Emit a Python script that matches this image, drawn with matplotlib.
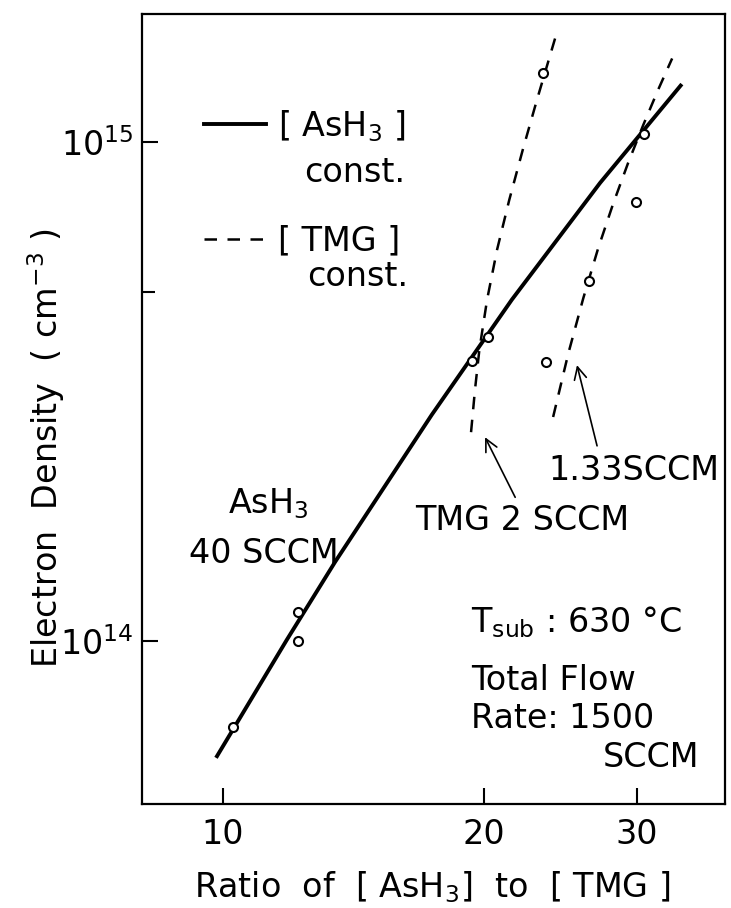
import numpy as np
import matplotlib.pyplot as plt
from matplotlib.lines import Line2D
from matplotlib.ticker import FixedLocator, NullLocator, NullFormatter

plt.rcParams['font.family'] = ['DejaVu Sans']
plt.rcParams['mathtext.default'] = 'regular'

# [AsH3] const. (AsH3 40 SCCM)
ash3_x = [9.82, 11.85, 13.47, 17.41, 21.53, 27.21, 33.8]
ash3_y = [5.83e13, 1.005e14, 1.44e14, 2.84e14, 4.83e14, 8.28e14, 1.306e15]

# [TMG] const., TMG 2 SCCM
tmg2_x = [19.32, 19.52, 19.75, 20.16, 20.70, 21.38, 22.16, 23.01, 24.21]
tmg2_y = [2.62e14, 3.18e14, 3.83e14, 4.83e14, 6.08e14, 7.65e14, 9.64e14, 1.214e15, 1.638e15]

# [TMG] const., 1.33 SCCM
tmg133_x = [24.02, 25.00, 26.02, 27.06, 28.16, 29.31, 30.50, 31.73, 32.94]
tmg133_y = [2.81e14, 3.76e14, 4.86e14, 6.11e14, 7.51e14, 9.08e14, 1.080e15, 1.271e15, 1.470e15]

# measured points
pts_x = [10.28, 12.2, 12.2, 19.36, 20.23, 23.58, 23.37, 30.58, 29.96, 26.4]
pts_y = [6.73e13, 1.14e14, 1.0e14, 3.64e14, 4.06e14, 3.63e14, 1.376e15, 1.036e15, 7.57e14, 5.26e14]

xticks = [10, 20, 30]
xticklabels = ['10', '20', '30']
yticks = [1e14, 1e15]
yticklabels = ['$10^{14}$', '$10^{15}$']

FS = 24
DASH = (0, (5, 4.2))

fig = plt.figure(figsize=(7.31, 9.08), dpi=100)
ax = fig.add_axes([0.1943, 0.1145, 0.7975, 0.8701])
ax.set_xscale('log')
ax.set_yscale('log')
ax.set_xlim(8.07, 37.9)
ax.set_ylim(4.71e13, 1.805e15)

ax.plot(ash3_x, ash3_y, color='black', lw=2.8, solid_capstyle='butt')
ax.plot(tmg2_x, tmg2_y, color='black', lw=1.8, ls=DASH)
ax.plot(tmg133_x, tmg133_y, color='black', lw=1.8, ls=DASH)
ax.plot(pts_x, pts_y, 'o', ms=6.5, mfc='white', mec='black', mew=1.5, ls='none')

for s in ax.spines.values():
    s.set_linewidth(1.6)

ax.xaxis.set_major_locator(FixedLocator(xticks))
ax.xaxis.set_major_formatter(plt.FixedFormatter(xticklabels))
ax.xaxis.set_minor_locator(NullLocator())
ax.yaxis.set_major_locator(FixedLocator(yticks))
ax.yaxis.set_major_formatter(plt.FixedFormatter(yticklabels))
ax.yaxis.set_minor_locator(FixedLocator([5e14]))
ax.yaxis.set_minor_formatter(NullFormatter())
ax.tick_params(axis='both', which='major', direction='in', length=11.5, width=1.5,
               labelsize=FS)
ax.tick_params(axis='x', which='major', pad=10)
ax.tick_params(axis='y', which='major', pad=6)
ax.tick_params(axis='y', which='minor', direction='in', length=9, width=1.5)

ax.set_xlabel('Ratio  of  [ AsH$_3$]  to  [ TMG ]', fontsize=FS)
ax.xaxis.set_label_coords(0.497, -0.083)
ax.set_ylabel('Electron  Density  ( cm$^{-3}$ )', fontsize=FS)
ax.yaxis.set_label_coords(-0.128, 0.45)

# legend
handles = [Line2D([], [], color='black', lw=2.8),
           Line2D([], [], color='black', lw=1.8, ls=DASH)]
ax.legend(handles, ['[ AsH$_3$ ]', '[ TMG ]'], loc='upper left',
          bbox_to_anchor=(0.107, 0.881), frameon=False, fontsize=FS,
          handlelength=1.85, handletextpad=0.35, labelspacing=2.42,
          borderpad=0, borderaxespad=0)
ax.text(0.451, 0.787, 'const.', transform=ax.transAxes, fontsize=FS,
        ha='right', va='baseline')
ax.text(0.456, 0.656, 'const.', transform=ax.transAxes, fontsize=FS,
        ha='right', va='baseline')

# annotations
ax.text(0.1475, 0.368, 'AsH$_3$', transform=ax.transAxes, fontsize=FS,
        ha='left', va='baseline')
ax.text(0.0806, 0.305, '40 SCCM', transform=ax.transAxes, fontsize=FS,
        ha='left', va='baseline')
ax.text(0.4683, 0.347, 'TMG 2 SCCM', transform=ax.transAxes, fontsize=FS,
        ha='left', va='baseline')
ax.text(0.991, 0.410, '1.33SCCM', transform=ax.transAxes, fontsize=FS,
        ha='right', va='baseline')

arrow = dict(arrowstyle='->', color='black', lw=1.2, shrinkA=0, shrinkB=0,
             mutation_scale=22)
ax.annotate('', xy=(20.05, 2.56e14), xytext=(21.72, 1.94e14), arrowprops=arrow)
ax.annotate('', xy=(25.59, 3.57e14), xytext=(26.99, 2.46e14), arrowprops=arrow)

ax.text(0.5643, 0.2177, 'T$_{sub}$ : 630 °C', transform=ax.transAxes, fontsize=FS,
        ha='left', va='baseline')
ax.text(0.5643, 0.1443, 'Total Flow', transform=ax.transAxes, fontsize=FS,
        ha='left', va='baseline')
ax.text(0.5643, 0.0962, 'Rate: 1500', transform=ax.transAxes, fontsize=FS,
        ha='left', va='baseline')
ax.text(0.9554, 0.0468, 'SCCM', transform=ax.transAxes, fontsize=FS,
        ha='right', va='baseline')

fig.savefig('out.png', dpi=100)
